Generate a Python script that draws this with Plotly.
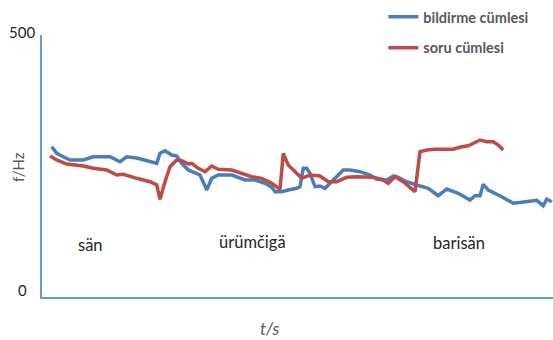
import plotly.graph_objects as go

# Time (s) and pitch (Hz) contours
t_bildirme = [0.039, 0.059, 0.085, 0.112, 0.165, 0.205, 0.272, 0.312, 0.339, 0.379,
              0.459, 0.472, 0.492, 0.519, 0.539, 0.559, 0.585, 0.612, 0.632, 0.659,
              0.679, 0.705, 0.759, 0.812, 0.852, 0.892, 0.919, 0.932, 0.959, 0.985,
              1.019, 1.032, 1.045, 1.059, 1.072, 1.092, 1.112, 1.132, 1.165, 1.205,
              1.232, 1.272, 1.312, 1.339, 1.379, 1.405, 1.419, 1.459, 1.499, 1.545,
              1.585, 1.619, 1.665, 1.712, 1.732, 1.752, 1.765, 1.785, 1.839, 1.885,
              1.919, 1.959, 1.979, 2.005, 2.019, 2.039]
f_bildirme = [286.8, 274.2, 267.7, 261.5, 261.5, 267.7, 267.7, 258.2, 267.7, 265.3,
              255.2, 274.2, 279.2, 271.0, 269.1, 255.2, 242.4, 236.1, 232.8, 204.2,
              226.5, 232.8, 232.8, 223.3, 223.3, 217.0, 209.4, 201.0, 201.0, 204.2,
              207.4, 210.5, 245.6, 245.6, 236.1, 210.5, 211.8, 207.4, 223.3, 242.4,
              242.4, 239.1, 232.8, 224.6, 223.3, 230.9, 229.6, 220.0, 213.7, 207.4,
              193.3, 206.1, 197.9, 185.1, 193.3, 193.3, 215.1, 204.2, 191.4, 178.8,
              180.7, 183.2, 184.5, 174.2, 187.0, 181.9]

t_soru = [0.032, 0.059, 0.099, 0.165, 0.205, 0.259, 0.299, 0.325, 0.379, 0.432,
          0.459, 0.472, 0.492, 0.512, 0.539, 0.559, 0.585, 0.599, 0.625, 0.652,
          0.679, 0.705, 0.759, 0.799, 0.839, 0.879, 0.919, 0.952, 0.965, 0.985,
          1.012, 1.039, 1.072, 1.112, 1.145, 1.179, 1.219, 1.259, 1.325, 1.359,
          1.385, 1.412, 1.445, 1.492, 1.512, 1.539, 1.572, 1.645, 1.679, 1.705,
          1.752, 1.779, 1.805, 1.825, 1.845]
f_soru = [269.1, 261.5, 253.8, 250.0, 245.6, 242.4, 232.8, 234.2, 226.5, 220.0,
          213.7, 186.5, 220.0, 248.7, 261.5, 260.1, 253.8, 255.2, 245.6, 239.1,
          250.0, 243.7, 242.4, 236.1, 229.6, 226.5, 217.0, 205.5, 274.2, 251.9,
          239.1, 226.5, 232.8, 230.9, 220.0, 220.0, 228.4, 229.6, 228.4, 224.6,
          217.0, 229.6, 220.0, 201.0, 277.3, 280.5, 281.9, 281.9, 286.8, 288.7,
          299.6, 296.4, 296.4, 290.1, 280.5]

series_names = ["bildirme cümlesi", "soru cümlesi"]
series_colors = ["#4A7EBB", "#BE4B48"]

# Words of the utterance, placed under their stretch of the contour
words = ["sän", "ürümčigä", "barisän"]
word_t = [0.192, 0.84, 1.666]
word_f = [100, 105, 103]

y_ticks = [0, 500]

FONT = "Lato, 'Open Sans', sans-serif"

fig = go.Figure()
fig.add_trace(go.Scatter(x=t_bildirme, y=f_bildirme, mode="lines", name=series_names[0],
                         legendgroup="a",
                         line=dict(color=series_colors[0], width=3.5)))
fig.add_trace(go.Scatter(x=t_soru, y=f_soru, mode="lines", name=series_names[1],
                         legendgroup="b",
                         line=dict(color=series_colors[1], width=3.5)))

for w, x, y in zip(words, word_t, word_f):
    fig.add_annotation(x=x, y=y, text=w, showarrow=False, xref="x", yref="y",
                       font=dict(family=FONT, size=16.5, color="#262626"))

# y tick labels
fig.add_annotation(x=0, y=y_ticks[1], text=str(y_ticks[1]), showarrow=False,
                   xref="paper", yref="y", xanchor="right", yshift=3, xshift=-5,
                   font=dict(family=FONT, size=15, color="#262626"))
fig.add_annotation(x=0, y=y_ticks[0], text=str(y_ticks[0]), showarrow=False,
                   xref="paper", yref="y", xanchor="right", yshift=7, xshift=-13,
                   font=dict(family=FONT, size=15, color="#262626"))

# axis titles
fig.add_annotation(x=0, y=250, xref="paper", yref="y", text="f/Hz", showarrow=False,
                   textangle=-90, xanchor="center", xshift=-24, yshift=-1,
                   font=dict(family=FONT, size=15, color="#595959"))
fig.add_annotation(x=0.447, y=0, xref="paper", yref="paper", text="<i>t/s</i>",
                   showarrow=False, yanchor="middle", yshift=-31,
                   font=dict(family=FONT, size=17, color="#595959"))

fig.update_xaxes(range=[0, 2.044], showgrid=False, zeroline=False, showticklabels=False,
                 ticks="", showline=True, linecolor="#6E9AD3", linewidth=1.5)
fig.update_yaxes(range=[0, 500], showgrid=False, zeroline=False, showticklabels=False,
                 ticks="", showline=True, linecolor="#6E9AD3", linewidth=1.5)

fig.update_layout(
    width=553, height=340,
    margin=dict(l=42, r=0, t=35, b=43),
    paper_bgcolor="white", plot_bgcolor="white",
    showlegend=True,
    legend=dict(x=0.668, y=1.13, xanchor="left", yanchor="top",
                font=dict(family=FONT, size=14.5, color="#595959", weight="bold"),
                tracegroupgap=9, bgcolor="rgba(0,0,0,0)", itemwidth=30),
)

fig.write_html("out.html")
